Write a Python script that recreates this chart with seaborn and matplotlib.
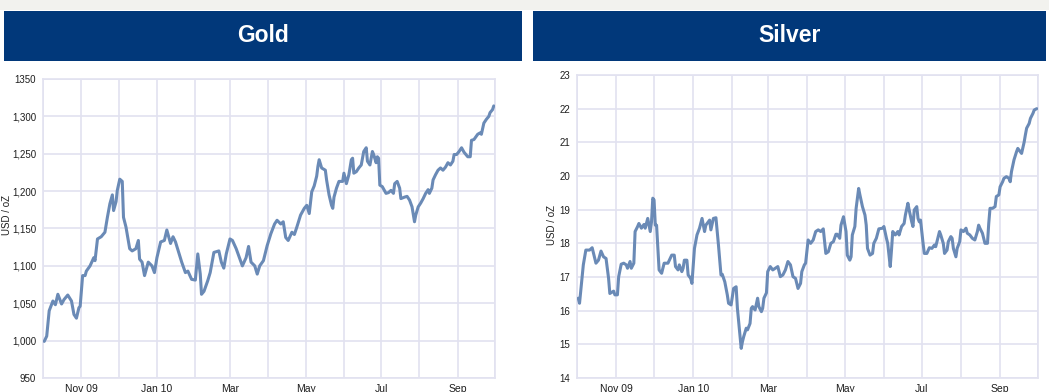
import matplotlib
matplotlib.use("Agg")
import matplotlib.pyplot as plt
import matplotlib.dates as mdates
from matplotlib.patches import Rectangle
from matplotlib.ticker import FixedLocator, FixedFormatter
import pandas as pd
import seaborn as sns

# ---- data -----------------------------------------------------------------
gold_dates = [
    "2009-10-02", "2009-10-04", "2009-10-06", "2009-10-09", "2009-10-11", "2009-10-13",
    "2009-10-16", "2009-10-18", "2009-10-21", "2009-10-24", "2009-10-26", "2009-10-28",
    "2009-10-30", "2009-10-31",
    "2009-11-02", "2009-11-04", "2009-11-05", "2009-11-08", "2009-11-11", "2009-11-12",
    "2009-11-14", "2009-11-17", "2009-11-20", "2009-11-22", "2009-11-24", "2009-11-26",
    "2009-11-27", "2009-11-29", "2009-11-30",
    "2009-12-02", "2009-12-04", "2009-12-05", "2009-12-07", "2009-12-10", "2009-12-12",
    "2009-12-15", "2009-12-17", "2009-12-18", "2009-12-20", "2009-12-22", "2009-12-25",
    "2009-12-28", "2009-12-30",
    "2010-01-01", "2010-01-04", "2010-01-07", "2010-01-09", "2010-01-12", "2010-01-14",
    "2010-01-16", "2010-01-19", "2010-01-21", "2010-01-24", "2010-01-26", "2010-01-29",
    "2010-02-01", "2010-02-03", "2010-02-05", "2010-02-06", "2010-02-08", "2010-02-11",
    "2010-02-13", "2010-02-16", "2010-02-20", "2010-02-22", "2010-02-24", "2010-02-26",
    "2010-03-01", "2010-03-03", "2010-03-06", "2010-03-09", "2010-03-11", "2010-03-14",
    "2010-03-16", "2010-03-18", "2010-03-21", "2010-03-23", "2010-03-25", "2010-03-28",
    "2010-03-31",
    "2010-04-03", "2010-04-06", "2010-04-08", "2010-04-11", "2010-04-13", "2010-04-15",
    "2010-04-17", "2010-04-20", "2010-04-22", "2010-04-24", "2010-04-27", "2010-04-30",
    "2010-05-02", "2010-05-04", "2010-05-06", "2010-05-08", "2010-05-10", "2010-05-11",
    "2010-05-12", "2010-05-14", "2010-05-17", "2010-05-18", "2010-05-20", "2010-05-22",
    "2010-05-23", "2010-05-24", "2010-05-26", "2010-05-28", "2010-05-31",
    "2010-06-01", "2010-06-03", "2010-06-05", "2010-06-07", "2010-06-08", "2010-06-09",
    "2010-06-11", "2010-06-13", "2010-06-15", "2010-06-17", "2010-06-19", "2010-06-20",
    "2010-06-22", "2010-06-24", "2010-06-25", "2010-06-27", "2010-06-28", "2010-06-29",
    "2010-06-30",
    "2010-07-02", "2010-07-05", "2010-07-07", "2010-07-09", "2010-07-11", "2010-07-12",
    "2010-07-14", "2010-07-16", "2010-07-17", "2010-07-20", "2010-07-22", "2010-07-24",
    "2010-07-26", "2010-07-28", "2010-07-29", "2010-07-31",
    "2010-08-02", "2010-08-04", "2010-08-06", "2010-08-08", "2010-08-09", "2010-08-11",
    "2010-08-12", "2010-08-14", "2010-08-16", "2010-08-18", "2010-08-20", "2010-08-22",
    "2010-08-24", "2010-08-26", "2010-08-28", "2010-08-29", "2010-08-31",
    "2010-09-02", "2010-09-04", "2010-09-06", "2010-09-09", "2010-09-11", "2010-09-12",
    "2010-09-14", "2010-09-17", "2010-09-19", "2010-09-20", "2010-09-22", "2010-09-24",
    "2010-09-26", "2010-09-27", "2010-09-29", "2010-09-30",
]
gold_prices = [
    999, 1006, 1040, 1053, 1048, 1062, 1049, 1055, 1061, 1053, 1035, 1030, 1044, 1046,
    1087, 1087, 1093, 1100, 1111, 1107, 1136, 1139, 1145, 1165, 1183, 1195, 1174, 1186, 1201,
    1216, 1213, 1165, 1152, 1123, 1120, 1123, 1134, 1109, 1105, 1087, 1105, 1100, 1091,
    1111, 1132, 1134, 1148, 1130, 1139, 1132, 1116, 1105, 1091, 1093, 1082,
    1081, 1116, 1089, 1062, 1066, 1080, 1091, 1118, 1120, 1105, 1097, 1116,
    1136, 1134, 1123, 1109, 1100, 1111, 1126, 1105, 1100, 1089, 1100, 1107, 1127,
    1143, 1156, 1161, 1156, 1159, 1138, 1134, 1145, 1142, 1152, 1168, 1177,
    1181, 1170, 1199, 1207, 1220, 1233, 1242, 1231, 1228, 1215, 1195, 1181, 1177, 1192,
    1204, 1213, 1213,
    1224, 1210, 1222, 1242, 1244, 1224, 1226, 1231, 1235, 1253, 1258, 1240, 1235, 1253,
    1249, 1238, 1246, 1244, 1208,
    1206, 1197, 1198, 1201, 1197, 1210, 1213, 1204, 1190, 1192, 1193, 1188, 1179, 1159,
    1168, 1179,
    1184, 1190, 1197, 1202, 1197, 1204, 1215, 1222, 1228, 1231, 1228, 1232, 1238, 1235,
    1240, 1249, 1249,
    1253, 1258, 1252, 1246, 1246, 1268, 1269, 1276, 1278, 1276, 1291, 1296, 1300, 1305,
    1309, 1314,
]

silver_dates = [
    "2009-10-02", "2009-10-03", "2009-10-05", "2009-10-06", "2009-10-08", "2009-10-11",
    "2009-10-13", "2009-10-16", "2009-10-18", "2009-10-20", "2009-10-22", "2009-10-24",
    "2009-10-26", "2009-10-27", "2009-10-30", "2009-10-31",
    "2009-11-02", "2009-11-03", "2009-11-05", "2009-11-07", "2009-11-09", "2009-11-10",
    "2009-11-12", "2009-11-13", "2009-11-15", "2009-11-16", "2009-11-18", "2009-11-19",
    "2009-11-21", "2009-11-23", "2009-11-24", "2009-11-26", "2009-11-28", "2009-11-29",
    "2009-11-30",
    "2009-12-01", "2009-12-02", "2009-12-03", "2009-12-04", "2009-12-05", "2009-12-07",
    "2009-12-09", "2009-12-12", "2009-12-15", "2009-12-17", "2009-12-18", "2009-12-20",
    "2009-12-21", "2009-12-23", "2009-12-24", "2009-12-25", "2009-12-27", "2009-12-28",
    "2009-12-30", "2009-12-31",
    "2010-01-02", "2010-01-04", "2010-01-06", "2010-01-08", "2010-01-10", "2010-01-11",
    "2010-01-14", "2010-01-15", "2010-01-17", "2010-01-19", "2010-01-21", "2010-01-23",
    "2010-01-24", "2010-01-26", "2010-01-28", "2010-01-29", "2010-01-31",
    "2010-02-02", "2010-02-04", "2010-02-05", "2010-02-07", "2010-02-08", "2010-02-09",
    "2010-02-10", "2010-02-12", "2010-02-13", "2010-02-15", "2010-02-16", "2010-02-17",
    "2010-02-19", "2010-02-21", "2010-02-22", "2010-02-24", "2010-02-25", "2010-02-26",
    "2010-02-28",
    "2010-03-01", "2010-03-03", "2010-03-05", "2010-03-07", "2010-03-09", "2010-03-11",
    "2010-03-13", "2010-03-15", "2010-03-17", "2010-03-19", "2010-03-21", "2010-03-23",
    "2010-03-25", "2010-03-27", "2010-03-28", "2010-03-30", "2010-03-31",
    "2010-04-02", "2010-04-04", "2010-04-06", "2010-04-08", "2010-04-10", "2010-04-12",
    "2010-04-14", "2010-04-16", "2010-04-18", "2010-04-20", "2010-04-22", "2010-04-24",
    "2010-04-25", "2010-04-27", "2010-04-28", "2010-04-30",
    "2010-05-02", "2010-05-03", "2010-05-05", "2010-05-06", "2010-05-07", "2010-05-09",
    "2010-05-10", "2010-05-12", "2010-05-13", "2010-05-15", "2010-05-17", "2010-05-18",
    "2010-05-19", "2010-05-21", "2010-05-23", "2010-05-24", "2010-05-26", "2010-05-28",
    "2010-05-31",
    "2010-06-01", "2010-06-03", "2010-06-04", "2010-06-06", "2010-06-07", "2010-06-08",
    "2010-06-10", "2010-06-12", "2010-06-13", "2010-06-15", "2010-06-17", "2010-06-18",
    "2010-06-20", "2010-06-21", "2010-06-23", "2010-06-24", "2010-06-25", "2010-06-27",
    "2010-06-28", "2010-06-29", "2010-06-30",
    "2010-07-02", "2010-07-03", "2010-07-05", "2010-07-07", "2010-07-09", "2010-07-11",
    "2010-07-12", "2010-07-14", "2010-07-15", "2010-07-16", "2010-07-18", "2010-07-19",
    "2010-07-21", "2010-07-22", "2010-07-24", "2010-07-25", "2010-07-26", "2010-07-28",
    "2010-07-29", "2010-07-31",
    "2010-08-01", "2010-08-03", "2010-08-05", "2010-08-06", "2010-08-08", "2010-08-10",
    "2010-08-12", "2010-08-14", "2010-08-15", "2010-08-16", "2010-08-18", "2010-08-19",
    "2010-08-20", "2010-08-22", "2010-08-23", "2010-08-24", "2010-08-26", "2010-08-28",
    "2010-08-29", "2010-08-31",
    "2010-09-01", "2010-09-03", "2010-09-04", "2010-09-06", "2010-09-08", "2010-09-09",
    "2010-09-10", "2010-09-12", "2010-09-14", "2010-09-15", "2010-09-16", "2010-09-18",
    "2010-09-20", "2010-09-21", "2010-09-22", "2010-09-24", "2010-09-25", "2010-09-27",
    "2010-09-28", "2010-09-30",
]
silver_prices = [
    16.37, 16.22, 16.96, 17.36, 17.80, 17.80, 17.87, 17.41, 17.50, 17.77, 17.60, 17.55,
    16.96, 16.51, 16.58, 16.47,
    16.47, 17.01, 17.38, 17.41, 17.36, 17.26, 17.46, 17.26, 17.41, 18.35, 18.50, 18.59,
    18.45, 18.56, 18.45, 18.74, 18.35, 18.64, 19.34,
    19.29, 18.54, 18.54, 17.85, 17.21, 17.11, 17.41, 17.41, 17.65, 17.65, 17.31, 17.21,
    17.36, 17.16, 17.26, 17.50, 17.50, 17.06, 16.96, 16.81,
    17.85, 18.25, 18.45, 18.74, 18.35, 18.54, 18.69, 18.40, 18.74, 18.76, 17.95, 17.06,
    17.08, 16.86, 16.47, 16.22, 16.17,
    16.66, 16.71, 16.07, 15.28, 14.88, 15.08, 15.23, 15.48, 15.43, 15.62, 16.07, 16.12,
    16.02, 16.37, 16.12, 15.97, 16.07, 16.37, 16.53,
    17.16, 17.31, 17.21, 17.26, 17.31, 17.01, 17.06, 17.21, 17.46, 17.36, 17.01, 16.96,
    16.66, 16.81, 17.16, 17.36, 17.41,
    18.10, 18.00, 18.10, 18.35, 18.40, 18.35, 18.43, 17.70, 17.75, 18.00, 18.05, 18.27,
    18.27, 18.15, 18.54, 18.79,
    18.35, 17.65, 17.50, 17.60, 18.25, 18.50, 19.04, 19.63, 19.44, 19.09, 18.84, 18.54,
    17.85, 17.65, 17.70, 18.00, 18.15, 18.43, 18.45,
    18.50, 18.15, 18.00, 17.31, 17.80, 18.35, 18.25, 18.35, 18.25, 18.50, 18.59, 18.84,
    19.19, 18.99, 18.64, 18.50, 18.99, 19.09, 18.74, 18.64, 18.69,
    18.00, 17.70, 17.70, 17.87, 17.85, 17.95, 17.90, 18.20, 18.35, 18.25, 18.00, 17.70,
    17.80, 18.05, 18.20, 18.15, 17.85, 17.60, 17.85, 18.05,
    18.40, 18.35, 18.45, 18.30, 18.25, 18.15, 18.10, 18.35, 18.54, 18.45, 18.30, 18.15,
    18.00, 18.00, 18.59, 19.04, 19.04, 19.09, 19.39, 19.44,
    19.68, 19.83, 19.93, 19.98, 19.93, 19.83, 20.13, 20.48, 20.72, 20.82, 20.77, 20.67,
    21.00, 21.22, 21.42, 21.56, 21.71, 21.86, 21.96, 22.00,
]

panel_titles = ["Gold", "Silver"]
y_axis_label = "USD / oZ"

gold_yticks = [950, 1000, 1050, 1100, 1150, 1200, 1250, 1300, 1350]
gold_ytick_labels = ["950", "1,000", "1,050", "1,100", "1,150", "1,200", "1,250", "1,300", "1350"]
silver_yticks = [14, 15, 16, 17, 18, 19, 20, 21, 22, 23]
silver_ytick_labels = ["14", "15", "16", "17", "18", "19", "20", "21", "22", "23"]

x_tick_dates = ["2009-11-01", "2010-01-01", "2010-03-01", "2010-05-01", "2010-07-01", "2010-09-01"]
x_tick_labels = ["Nov 09", "Jan 10", "Mar", "May", "Jul", "Sep"]
x_start, x_end = "2009-10-01", "2010-10-01"

# ---- style ----------------------------------------------------------------
sns.set_style("white")
plt.rcParams["font.family"] = ["Liberation Sans", "DejaVu Sans"]

W, H = 1049, 392
fig = plt.figure(figsize=(W / 100, H / 100), dpi=100)
fig.patch.set_facecolor("white")

LINE = "#6a8ab6"
GRID = "#e2e2f0"
NAVY = "#01387a"
TEXT = "#1e1e1e"


def px_box(left, top, right, bottom):
    return [left / W, 1 - bottom / H, (right - left) / W, (bottom - top) / H]


# pale strip along the very top edge
fig.patches.append(Rectangle((0, 1 - 10 / H), 1, 10 / H, transform=fig.transFigure,
                             facecolor="#f2f2ee", edgecolor="none", zorder=0))

panels = [
    dict(dates=gold_dates, values=gold_prices, yticks=gold_yticks,
         ylabels=gold_ytick_labels, box=(43, 79, 495, 378),
         header=(4, 11, 522, 61), ylab_xy=(7, 215)),
    dict(dates=silver_dates, values=silver_prices, yticks=silver_yticks,
         ylabels=silver_ytick_labels, box=(577, 75, 1038, 378),
         header=(533, 11, 1046, 61), ylab_xy=(552, 225)),
]

for title, p in zip(panel_titles, panels):
    # blue title bar
    hl, ht, hr, hb = p["header"]
    fig.patches.append(Rectangle((hl / W, 1 - hb / H), (hr - hl) / W, (hb - ht) / H,
                                 transform=fig.transFigure, facecolor=NAVY,
                                 edgecolor="none", zorder=1))
    fig.text((hl + hr) / 2 / W, 1 - (ht + hb) / 2 / H, title, color="white",
             fontsize=16.5, fontweight="bold", ha="center", va="center")

    ax = fig.add_axes(px_box(*p["box"]))
    df = pd.DataFrame({"date": pd.to_datetime(p["dates"]), "price": p["values"]})
    sns.lineplot(data=df, x="date", y="price", ax=ax, color=LINE, linewidth=2.2,
                 zorder=3)

    ax.set_xlim(pd.Timestamp(x_start), pd.Timestamp(x_end))
    ax.set_ylim(p["yticks"][0], p["yticks"][-1])

    ax.xaxis.set_major_locator(FixedLocator(mdates.date2num(pd.to_datetime(x_tick_dates))))
    ax.xaxis.set_major_formatter(FixedFormatter(x_tick_labels))
    ax.xaxis.set_minor_locator(mdates.MonthLocator())
    ax.yaxis.set_major_locator(FixedLocator(p["yticks"]))
    ax.yaxis.set_major_formatter(FixedFormatter(p["ylabels"]))

    ax.grid(True, which="both", axis="x", color=GRID, linewidth=1.2, zorder=0)
    ax.grid(True, which="major", axis="y", color=GRID, linewidth=1.2, zorder=0)
    ax.tick_params(axis="both", which="both", length=0, colors=TEXT)
    ax.tick_params(axis="y", labelsize=7, pad=5)
    ax.tick_params(axis="x", labelsize=7.5, pad=4)
    for s in ax.spines.values():
        s.set_color(GRID)
        s.set_linewidth(1.2)
    ax.set_xlabel("")
    ax.set_ylabel("")

    lx, ly = p["ylab_xy"]
    fig.text(lx / W, 1 - ly / H, y_axis_label, rotation=90, ha="center", va="center",
             fontsize=7, color=TEXT)

fig.savefig("out.png", dpi=100, facecolor=fig.get_facecolor())
